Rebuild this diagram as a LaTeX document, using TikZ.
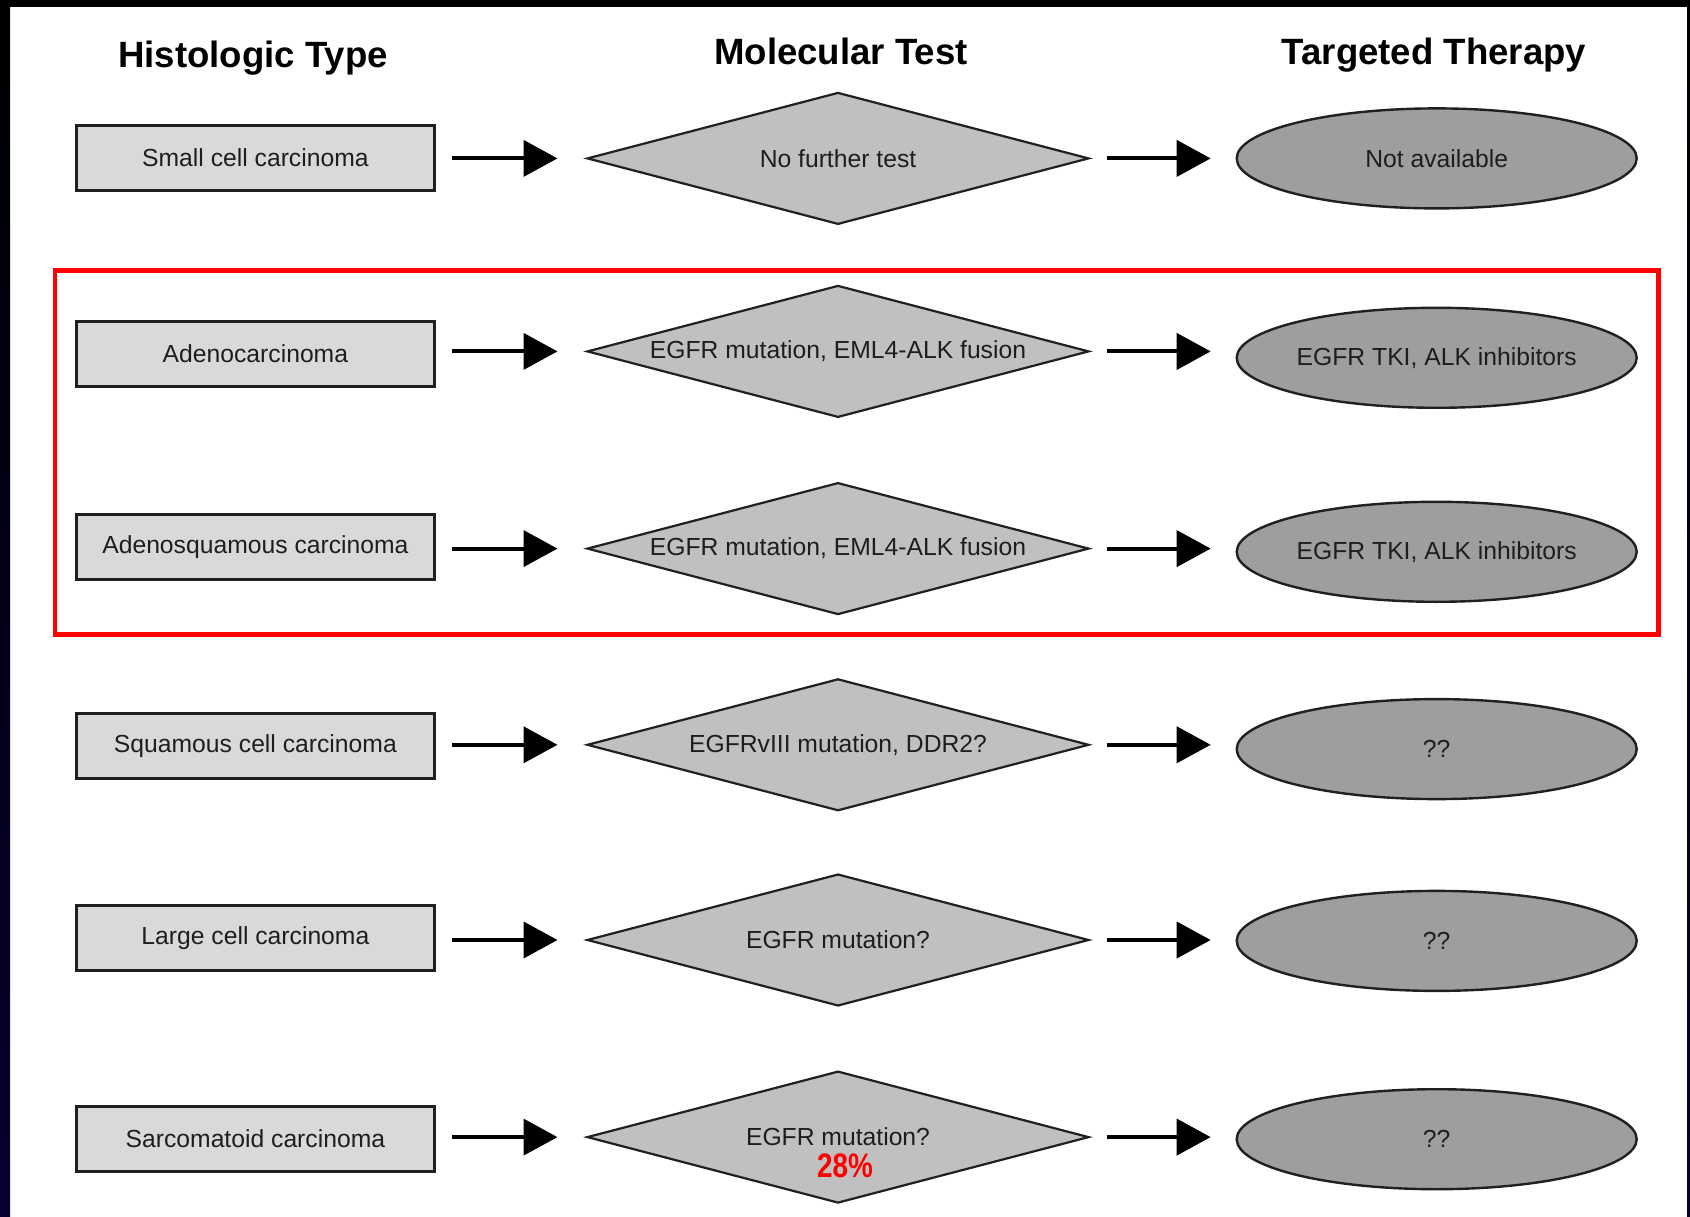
\documentclass[tikz,border=0pt]{standalone}
\usepackage{fontspec}
\usepackage{graphicx}
\setmainfont{Liberation Sans}
\usetikzlibrary{shapes.geometric,arrows.meta}
\definecolor{rectfill}{HTML}{D9D9D9}
\definecolor{diafill}{HTML}{C0C0C0}
\definecolor{ellfill}{HTML}{9E9E9E}
\definecolor{txt}{HTML}{1E1E1E}
\definecolor{edge}{HTML}{202020}
\definecolor{navy}{HTML}{080030}
\tikzset{
  every node/.style={inner sep=0pt, outer sep=0pt},
  ttl/.style={font=\fontsize{36.6}{40}\selectfont\bfseries, text=black, anchor=base},
  lbl/.style={font=\fontsize{24.7}{28}\selectfont, text=txt},
  typebox/.style={lbl, rectangle, draw=edge, line width=3pt, fill=rectfill,
    minimum width=358pt, minimum height=65pt},
  testbox/.style={lbl, diamond, draw=edge, line width=2.2pt, fill=diafill,
    minimum width=501pt, minimum height=131pt, shape aspect=3.8},
  therbox/.style={lbl, ellipse, draw=edge, line width=2.4pt, fill=ellfill,
    minimum width=400pt, minimum height=100pt},
  arr/.style={line width=4pt, draw=black, -{Triangle[length=34pt,width=36pt]}},
  arrA/.style={arr, shorten <=18pt, shorten >=30pt},
  arrB/.style={arr, shorten <=18pt, shorten >=26pt},
}
\begin{document}
\begin{tikzpicture}[x=1pt,y=-1pt]
\useasboundingbox (0,0) rectangle (1690,1217);
\fill[white] (0,0) rectangle (1690,1217);
\shade[top color=black, bottom color=navy] (0,0) rectangle (10,1217);
\fill[black] (0,0) rectangle (1690,7);
\shade[top color=black, bottom color=navy] (1687,0) rectangle (1690,1217);

% titles
\node[ttl] (t1) at (253,67.5) {Histologic Type};
\node[ttl] (t2) at (841,65) {Molecular Test};
\node[ttl] (t3) at (1434,65) {Targeted Therapy};

% red frame
\draw[red, line width=4.5pt] (55,270.5) rectangle (1658.5,634.5);

% row 1
\node[typebox] (r1) at (255.4,158) {Small cell carcinoma};
\node[testbox] (d1) at (838,158.4) {No further test};
\node[therbox] (e1) at (1436.7,158.4) {Not available};
% row 2
\node[typebox] (r2) at (255.4,354.1) {Adenocarcinoma};
\node[testbox] (d2) at (838,351.4) {EGFR mutation, EML4-ALK fusion};
\node[therbox] (e2) at (1436.7,357.8) {EGFR TKI, ALK inhibitors};
% row 3
\node[typebox] (r3) at (255.4,547) {Adenosquamous carcinoma};
\node[testbox] (d3) at (838,548.6) {EGFR mutation, EML4-ALK fusion};
\node[therbox] (e3) at (1436.7,551.8) {EGFR TKI, ALK inhibitors};
% row 4
\node[typebox] (r4) at (255.4,745.8) {Squamous cell carcinoma};
\node[testbox] (d4) at (838,744.8) {EGFRvIII mutation, DDR2?};
\node[therbox] (e4) at (1436.7,749.1) {??};
% row 5
\node[typebox] (r5) at (255.4,938.2) {Large cell carcinoma};
\node[testbox] (d5) at (838,940) {EGFR mutation?};
\node[therbox] (e5) at (1436.7,940.9) {??};
% row 6
\node[typebox] (r6) at (255.4,1138.7) {Sarcomatoid carcinoma};
\node[testbox] (d6) at (838,1137.1) {EGFR mutation?};
\node[therbox] (e6) at (1436.7,1139.2) {??};

\node (pct) at (845,1166) {\scalebox{0.82}[1]{\fontsize{34}{36}\selectfont\bfseries\color{red}28\%}};

% arrows
\foreach \i in {1,...,6}{
  \draw[arrA] (r\i.east |- d\i.west) -- (d\i.west);
  \draw[arrB] (d\i.east) -- (d\i.east -| e\i.west);
}
\end{tikzpicture}
\end{document}
